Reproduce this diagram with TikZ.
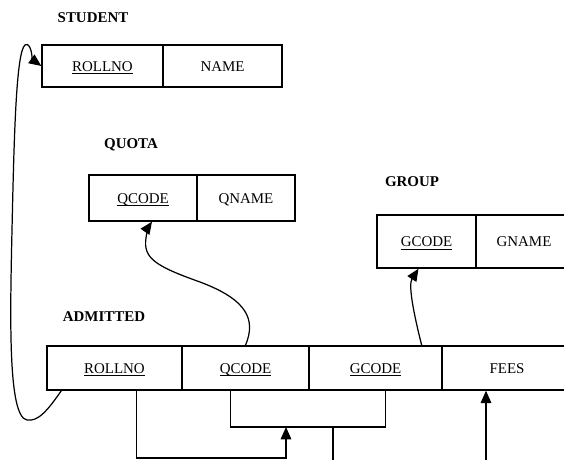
\documentclass[tikz,border=0pt]{standalone}
\usepackage{fontspec}
\setmainfont{Liberation Serif}
\usetikzlibrary{arrows.meta,calc}
\newcommand{\keyul}[1]{\underline{\raisebox{0pt}[\height][0pt]{#1}}}
\begin{document}
\begin{tikzpicture}[x=0.02cm,y=-0.02cm,
  cell/.style={draw,line width=0.8pt,inner sep=0pt,anchor=center,text height=6pt,text depth=0pt,font=\fontsize{8.5}{10}\selectfont},
  title/.style={font=\fontsize{8.5}{10}\selectfont\bfseries,inner sep=0pt},
  conn/.style={line width=0.75pt},
  curv/.style={line width=0.7pt},
  arr/.style={-{Triangle[length=7pt,width=6pt]}}]
\useasboundingbox (0,0) rectangle (564,460);
\clip (0,0) rectangle (564,460);
% titles
\node[title] (tstud) at (93,18) {STUDENT};
\node[title] (tquota) at (131,145) {QUOTA};
\node[title] (tgroup) at (412,182) {GROUP};
\node[title] (tadm) at (104,317) {ADMITTED};
% STUDENT
\node[cell,minimum width=2.42cm,minimum height=0.84cm] (s1) at (102.5,66) {\keyul{ROLLNO}};
\node[cell,minimum width=2.38cm,minimum height=0.84cm] (s2) at (222.5,66) {NAME};
% QUOTA
\node[cell,minimum width=2.16cm,minimum height=0.92cm] (q1) at (143,198) {\keyul{QCODE}};
\node[cell,minimum width=1.96cm,minimum height=0.92cm] (q2) at (246,198) {QNAME};
% GROUP
\node[cell,minimum width=1.98cm,minimum height=1.06cm] (g1) at (426.5,241.5) {\keyul{GCODE}};
\node[cell,minimum width=1.92cm,minimum height=1.06cm] (g2) at (524,241.5) {GNAME};
% ADMITTED
\node[cell,minimum width=2.7cm,minimum height=0.88cm] (a1) at (114.5,368) {\keyul{ROLLNO}};
\node[cell,minimum width=2.54cm,minimum height=0.88cm] (a2) at (245.5,368) {\keyul{QCODE}};
\node[cell,minimum width=2.66cm,minimum height=0.88cm] (a3) at (375.5,368) {\keyul{GCODE}};
\node[cell,minimum width=2.6cm,minimum height=0.88cm] (a4) at (507,368) {FEES};
% junction coordinates
\coordinate (pr) at ($(a1.south west)+(90,0)$);
\coordinate (pq) at ($(a2.south west)+(49,0)$);
\coordinate (pg) at ($(a3.south west)+(77,0)$);
\coordinate (jq) at (286,427);
\coordinate (jb) at (333,427);
\coordinate (rl) at (286,458);
\coordinate (bot1) at (333,460);
\coordinate (bot2) at (486,460);
% connectors below
\draw[conn,arr] (pr) |- (rl) -- (jq);
\draw[conn] (pq) |- (jb) -| (pg);
\draw[conn] (jb) -- (bot1);
\draw[conn,arr] (bot2) -- (a4.south -| bot2);
% curves
\draw[curv,arr] ($(a1.south west)+(15,0)$) .. controls (48,410) and (38,422) .. (27,420)
  .. controls (8,417) and (10,320) .. (12,230)
  .. controls (14,140) and (16,52) .. (25,45)
  .. controls (31,41) and (33,60) .. (s1.west);
\draw[curv,arr] (a2.north) .. controls (256,320) and (248,300) .. (200,282)
  .. controls (155,266) and (143,258) .. (146,238)
  .. controls (147,230) and (149,226) .. ($(q1.south)+(9,0)$);
\draw[curv,arr] ($(a3.north east)+(-21,0)$) .. controls (414,315) and (408,285) .. ($(g1.south)+(-8,0)$);
\end{tikzpicture}
\end{document}
